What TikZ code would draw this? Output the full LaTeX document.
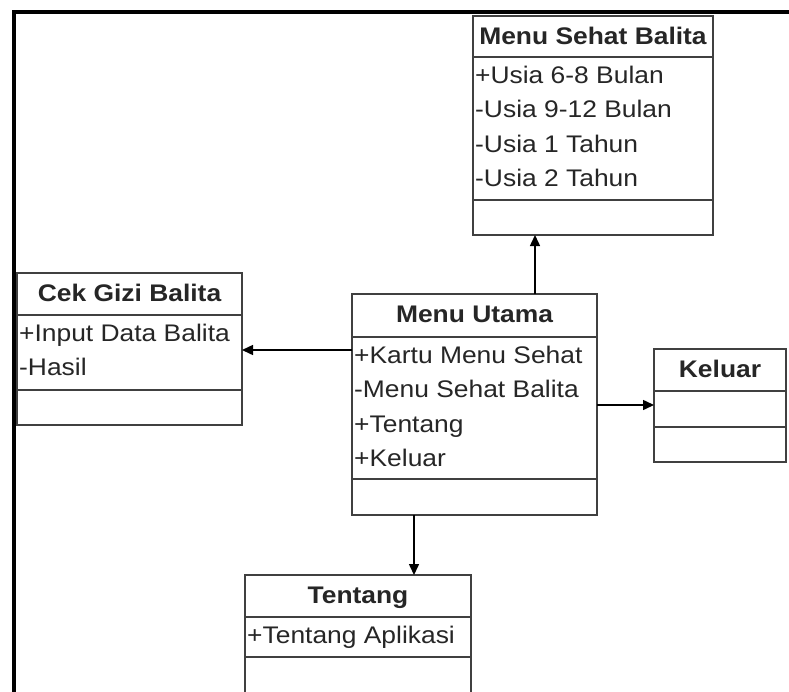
\documentclass[tikz,border=0pt]{standalone}
\usepackage{fontspec}
\setmainfont{Liberation Sans}[FakeStretch=1.1]
\usetikzlibrary{arrows.meta,calc}

% one UML class: name, x, y, width, title height, attr height, ops height, title, attrs
\newcommand\umlclass[9]{%
  \node[classbox, anchor=north west, minimum width=#4pt,
        minimum height={(#5+#6+#7)*1pt}] (#1) at (#2,#3) {};
  \draw[classline] ([yshift=-#5pt]#1.north west) -- ([yshift=-#5pt]#1.north east);
  \draw[classline] ([yshift={-(#5+#6)*1pt}]#1.north west) -- ([yshift={-(#5+#6)*1pt}]#1.north east);
  \node[classtitle] (#1-t) at ({#2+#4/2},{#3+28}) {#8};
  \foreach \t [count=\i] in {#9}
    \node[classattr] (#1-a\i) at ({#2+2},{#3+#5+26+(\i-1)*34.5}) {\t};
}

\begin{document}
\begin{tikzpicture}[x=1pt,y=-1pt]

\tikzset{
  classbox/.style={draw=black!75, line width=1.6pt, fill=white, outer sep=0pt, inner sep=0pt},
  classline/.style={draw=black!75, line width=1.6pt},
  classtitle/.style={anchor=base, inner sep=0pt, text=black!85, font=\fontsize{24}{30}\selectfont\bfseries},
  classattr/.style={anchor=base west, inner sep=0pt, text=black!85, font=\fontsize{24}{30}\selectfont},
  arrow/.style={-{Triangle[length=11pt,width=10pt]}, line width=1.5pt, black}
}

\useasboundingbox (0,0) rectangle (789,691);
\clip (0,0) rectangle (789,691);

% --------------------
% Frame
% --------------------
\draw[line width=4pt, miter limit=10] (14,700) -- (14,12) -- (800,12);

% --------------------
% Classes
% --------------------
\umlclass{sehat}{473}{16}{240}{41}{143}{35}{Menu Sehat Balita}
  {+Usia 6-8 Bulan, -Usia 9-12 Bulan, -Usia 1 Tahun, -Usia 2 Tahun}
\umlclass{gizi}{17}{273}{225}{42}{75}{35}{Cek Gizi Balita}
  {+Input Data Balita, -Hasil}
\umlclass{utama}{352}{294}{245}{43}{142}{36}{Menu Utama}
  {+Kartu Menu Sehat, -Menu Sehat Balita, +Tentang, +Keluar}
\umlclass{keluar}{654}{349}{132}{42}{36}{35}{Keluar}{}
\umlclass{tentang}{245}{575}{226}{42}{40}{36}{Tentang}
  {+Tentang Aplikasi}

% --------------------
% Links from the main menu
% --------------------
\coordinate (uN) at ([xshift=183pt]utama.north west);
\coordinate (uW) at ([yshift=-56pt]utama.north west);
\coordinate (uE) at ([yshift=-111pt]utama.north east);
\coordinate (uS) at ([xshift=62pt]utama.south west);

\draw[arrow] (uN) -- (uN |- sehat.south);
\draw[arrow] (uW) -- (uW -| gizi.east);
\draw[arrow] (uE) -- (uE -| keluar.west);
\draw[arrow] (uS) -- (uS |- tentang.north);

\end{tikzpicture}
\end{document}
